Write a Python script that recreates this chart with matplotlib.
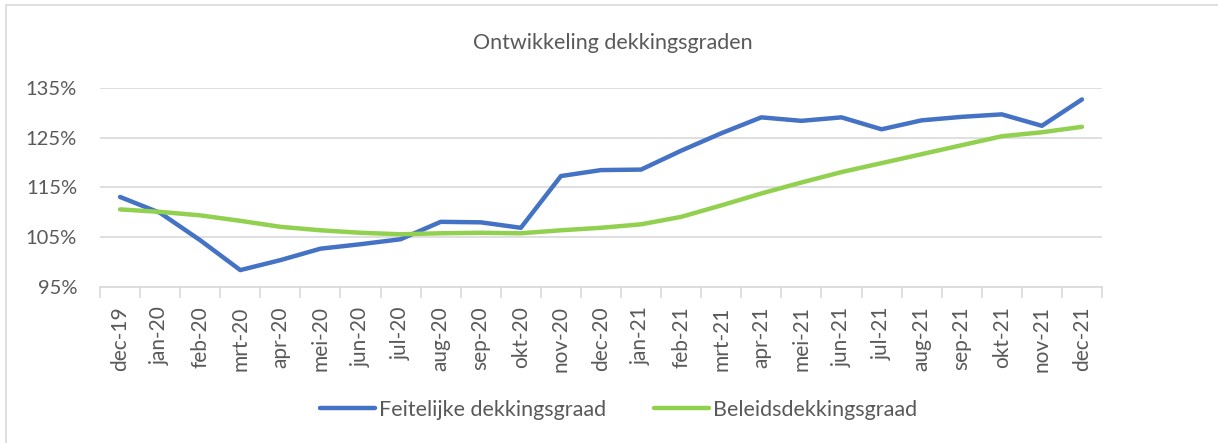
import numpy as np
import matplotlib
matplotlib.use('Agg')
from matplotlib import pyplot as plt
from matplotlib.patches import Rectangle

maanden = ['dec-19', 'jan-20', 'feb-20', 'mrt-20', 'apr-20', 'mei-20', 'jun-20',
           'jul-20', 'aug-20', 'sep-20', 'okt-20', 'nov-20', 'dec-20', 'jan-21',
           'feb-21', 'mrt-21', 'apr-21', 'mei-21', 'jun-21', 'jul-21', 'aug-21',
           'sep-21', 'okt-21', 'nov-21', 'dec-21']
feitelijk = [113.1, 109.9, 104.4, 98.4, 100.4, 102.7, 103.6, 104.6, 108.1, 108.0,
             106.9, 117.3, 118.5, 118.6, 122.4, 125.9, 129.1, 128.4, 129.1, 126.7,
             128.5, 129.2, 129.7, 127.4, 132.7]
beleid = [110.6, 110.1, 109.4, 108.3, 107.1, 106.4, 105.9, 105.6, 105.8, 105.9,
          105.8, 106.4, 106.9, 107.6, 109.1, 111.4, 113.8, 116.0, 118.1, 119.9,
          121.7, 123.5, 125.3, 126.1, 127.2]
yticks = [95, 105, 115, 125, 135]

grijs = '#595959'
plt.rcParams['font.family'] = ['Lato', 'DejaVu Sans']

fig = plt.figure(figsize=(12.18, 4.43), dpi=100)
# chart-rand (rechts en onder buiten beeld)
fig.patches.append(Rectangle((6/1218, -0.1), 1.2, 1.1 - 5/443, transform=fig.transFigure,
                             fill=False, edgecolor='#d9d9d9', linewidth=1.2))

ax = fig.add_axes([100/1218, 1 - 287/443, 1002/1218, 199/443])
x = np.arange(len(maanden))
ax.plot(x, feitelijk, color='#4472C4', lw=3.2, solid_capstyle='round',
        label='Feitelijke dekkingsgraad')
ax.plot(x, beleid, color='#92D050', lw=3.2, solid_capstyle='round',
        label='Beleidsdekkingsgraad')

ax.set_xlim(-0.5, len(maanden) - 0.5)
ax.set_ylim(95, 135)
ax.set_yticks(yticks)
ax.set_yticklabels(['%d%%' % v for v in yticks])
ax.set_xticks(x)
ax.set_xticklabels(maanden, rotation=90)
ax.set_xticks(np.arange(-0.5, len(maanden)), minor=True)
ax.tick_params(axis='x', which='major', length=0, pad=14, labelsize=15, labelcolor=grijs)
ax.tick_params(axis='x', which='minor', length=8, color='#d9d9d9', width=1.2)
ax.tick_params(axis='y', length=0, pad=16.5, labelsize=14.5, labelcolor=grijs)
ax.grid(axis='y', color='#d9d9d9', lw=1.2)
ax.set_axisbelow(True)
for s in ['top', 'right', 'left']:
    ax.spines[s].set_visible(False)
ax.spines['bottom'].set_color('#d9d9d9')
ax.spines['bottom'].set_linewidth(1.2)

fig.text(0.503, 1 - 43/443, 'Ontwikkeling dekkingsgraden', ha='center', va='center',
         fontsize=15.5, color=grijs)

fig.legend(loc='center', bbox_to_anchor=(0.508, 1 - 410/443), ncol=2, frameon=False,
           fontsize=15.5, labelcolor=grijs, handlelength=2.55, handletextpad=0.2,
           columnspacing=2.2)

fig.savefig('out.png', dpi=100)
